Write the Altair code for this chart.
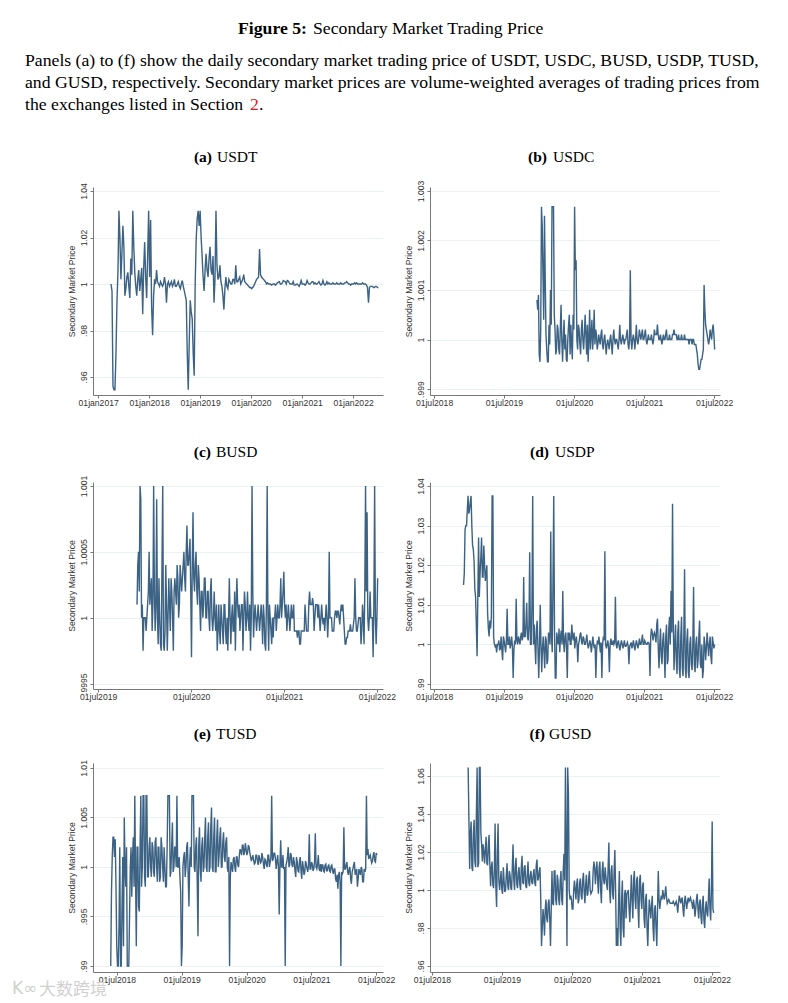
import altair as alt
import pandas as pd

usdt_v = [1.0,.956,.9545,.992,1.0315,1.002,1.025,.995,1.003,.999,
 1.011,1.0315,1.005,.995,1.006,1.002,.987,1.018,.994,1.0315,
 1.0275,.978,1.002,1.006,1.0,1.001,.999,1.003,.992,1.001,
 1.0,.999,1.002,.999,1.001,.998,1.0015,.997,.993,.9545,
 .993,.985,.9605,1.019,1.0315,1.0315,1.012,.997,1.013,1.003,
 1.016,1.004,.992,1.0315,1.002,1.008,.999,.989,1.003,.998,
 1.001,1.0,1.002,1.008,1.001,1.003,1.001,1.004,1.0005,.9995,
 .9985,.998,.999,1.001,1.0025,1.015,1.003,1.002,1.001,1.0005,
 1.0,.9995,1.0,.9995,1.0005,1.001,1.0,1.0015,1.001,1.0015,
 1.0005,1.0,1.001,.9995,1.0,.999,1.0015,1.0,.9995,1.0015,
 1.0,1.0005,1.001,1.0005,1.0,1.001,.9995,1.0015,.9995,1.001,
 1.0005,1.0,1.0005,1.0,1.0005,1.0,1.0005,1.0,1.0005,1.001,
 1.0,.9995,1.0,1.0005,1.0005,1.0,1.0,1.0005,1.0,.9995,
 .992,.999,.999,.9985,.999,.9985]
usdt_m = [.997,.9545,.97,1.005,1.02,1.013,1.016,.998,1.005,.994,
 1.004,1.016,.999,1.002,.997,1.007,1.007,1.003,1.012,1.003,
 .99,.995,1.0,1.001,.999,1.0,1.0,1.0,1.0,.999,
 1.001,1.0,.999,1.0,.999,1.0,.999,.995,.97,.975,
 .988,.97,1.0,1.028,1.025,1.02,1.003,1.006,1.006,1.011,
 1.006,1.012,1.002,1.008,1.003,1.001,.995,.998,.999,1.002,
 1.0,1.002,1.0,1.001,1.002,1.0,1.002,1.001,1.0,.999,
 .9985,.9985,1.0,1.002,1.003,1.004,1.0025,1.0015,1.0,1.0,
 1.0,.9998,1.0,1.0,1.0008,1.0,1.0005,1.0012,1.0,1.0013,
 1.0,1.0,.9995,.9998,.9995,1.0,1.0,1.0,1.0,1.0005,
 1.0,1.001,1.0,1.0,1.0005,1.0,1.0,1.0,1.0,1.0,
 1.0,1.0,1.0,1.0,1.0,1.0,1.0,1.0,1.0005,1.0005,
 1.0,1.0,1.0,1.0,1.0,1.0,1.0,1.0,1.0,.9985,
 .9985,.999,.9985,.999,.9985]
usdc_v = [1.0008,1.0009,.99955,1.00268,1.0013,1.0025,1.0001,.99955,1.0003,1.001,
 1.00268,1.00268,1.0002,.9998,1.0002,.9997,1.0007,.99955,1.0004,1.0001,
 .99955,1.0003,.9997,.9999,1.0005,1.00268,1.0016,.9998,1.0002,.9997,
 1.0004,.9998,1.0005,.9997,.99955,1.0006,1.0001,.9998,1.0006,1.0002,
 .9998,1.0001,.9999,1.0002,.9998,1.0001,.9997,1.0,.9998,1.0001,
 .9997,1.0002,.9999,1.0,.9998,1.0003,.9999,1.0001,.9999,1.0,
 1.0002,.9998,1.0014,.9998,1.0001,.9998,1.0003,.9999,1.0002,1.0,
 1.0002,1.0,1.0002,.9999,1.0001,1.0,1.0001,.9999,1.0002,1.0001,
 1.0003,1.0,1.0001,.9999,1.0001,1.0,1.0002,1.0,1.0001,1.0,
 1.0001,1.0002,1.0001,1.0,1.0001,1.0,1.0001,1.0,1.0001,1.0,
 1.0,.9999,1.0,.9999,1.0,.9999,.9998,.9995,.9994,.9996,
 .9997,1.0011,1.0003,1.0001,.9999,1.0002,1.0,1.0003,.9998]
usdc_m = [1.0006,.9997,1.0002,1.0023,1.0004,1.0012,.9998,.99955,.9999,1.0003,
 1.00268,1.0005,.9997,1.0003,.9998,1.0002,1.0,1.0,.9998,.9996,
 1.0,1.0005,1.0003,.9996,1.0002,1.0014,1.0,1.0003,.9999,1.0002,
 1.0,1.0001,1.0001,1.0003,1.0,.9998,1.0004,1.0001,.9999,1.0001,
 .9999,1.0,1.0001,.9999,1.0,.9999,.9999,.9999,1.0,.9999,
 1.0,1.0,1.0,.9999,1.0,1.0,1.0,1.0,1.0,1.0001,
 .9999,1.0,1.0,1.0,1.0,1.0,1.0,1.0,1.0001,1.0001,
 1.0,1.0001,1.0,1.0,1.0,1.0,1.0,1.0,1.0001,1.0001,
 1.0001,1.0,1.0,1.0,1.0,1.0001,1.0,1.0,1.0,1.0,
 1.0001,1.0001,1.0001,1.0,1.0,1.0,1.0,1.0,1.0,1.0,
 1.0,1.0,1.0,1.0,.9999,.9999,.9997,.9994,.9995,.9996,
 .9998,1.0006,1.0002,1.0,1.0,1.0001,1.0002,1.0001]
busd_v = [1.0001,1.0005,1.001,1.0,.99975,1.0,.9999,1.0001,1.0005,1.0002,
 .9999,1.001,.9999,1.0009,.9998,1.0,.99975,1.001,.99975,1.0004,
 .99975,1.0003,.9999,1.0002,.99975,1.0003,1.0001,1.0003,1.0001,1.0003,
 1.0003,1.0005,1.0002,1.0007,1.0004,1.0006,.9997,1.0008,1.0002,1.0005,
 1.0001,1.0003,.9999,1.0002,1.0001,1.0003,1.0,1.0002,.9999,1.0003,
 .9999,1.0002,.9999,.99975,1.0001,.9998,1.0,.9998,1.0001,.9998,
 .99975,1.0003,.9998,1.0001,.9999,.99975,1.0003,1.0,.9999,1.0001,
 .99975,1.0002,.9999,1.0002,.9999,.99975,1.001,.99985,1.0001,.9999,
 1.0001,.9999,1.0001,.9998,1.0,.99975,1.001,.99975,1.0,.9998,
 .99985,1.0,.9999,1.0001,1.0,1.0003,1.0001,1.00035,1.0,.9999,
 1.0001,.9999,1.0001,1.0,.9999,.9999,.99985,.9999,.9998,.9999,
 .9999,1.0001,.9999,.9999,1.0002,1.0001,1.00015,.9999,1.0001,1.0001,
 1.0001,.9999,1.0001,.99995,.9999,1.0001,.99985,1.0005,1.0,.9999,
 .9999,1.00005,1.0,1.00005,.99995,1.0001,1.0001,.9999,.9998,.99985,
 .9999,.99995,.9999,.99995,1.0003,.9999,.99995,1.0,.9998,1.0001,
 .9998,1.001,1.0008,.9999,1.0002,1.0,.9997,1.001,.9998,1.0003]
busd_m = [1.0004,1.0002,1.0009,1.0001,1.0,1.0,1.0,1.0002,1.0001,1.0003,
 1.0001,1.0002,1.0001,1.0,1.0003,.9998,1.0004,.9998,.9999,1.0001,
 1.0,1.0001,1.0003,1.0,1.0002,1.0002,1.0004,1.0,1.0004,1.0002,
 1.0004,1.0003,1.0005,1.0004,1.0005,1.0002,1.0004,1.0003,1.0004,1.0002,
 1.0004,1.0001,1.0002,1.0,1.0003,1.0,1.0002,1.0,1.0002,1.0,
 1.0,1.0,1.0001,.9999,.9999,1.0001,.9999,1.0001,.9999,1.0,
 1.0,1.0,1.0,.9999,1.0002,1.0001,1.0001,1.0001,1.0,1.0001,
 1.0,1.0001,1.0,1.0,1.0001,1.0,1.0002,1.0,1.0,1.0,
 1.0,1.0,1.0,1.0001,.9998,1.0001,1.0,1.0001,.9999,1.0,
 1.0,1.0001,1.0,1.0,1.0001,1.0,1.0002,1.0001,1.0001,1.0,
 1.0,1.0,1.0,1.0001,.9999,.9999,.9999,.9998,.9999,.9999,
 .9999,1.0,.9999,1.0001,1.0001,1.0001,1.0001,1.0,1.0001,1.0,
 1.0,1.0,1.0,1.0,1.0,1.0,1.0,1.0,1.0,.9999,
 1.0,1.00005,1.00005,1.0,1.00005,1.00005,1.0,.9998,.99985,.9999,
 .9999,.9999,.9999,1.0,1.0,.9999,1.0,1.0,.9999,1.0,
 1.0002,1.0002,1.0,1.0,1.0,1.0,1.0001,1.0,1.0]
usdp_v = [1.015,1.029,1.03,1.0375,1.034,1.0375,1.025,1.021,1.012,.997,
 1.027,1.018,1.027,1.017,1.02,1.018,1.008,1.002,1.004,1.0375,
 1.002,.9995,.998,1.0,.9985,1.002,.996,1.001,.998,1.009,
 1.0,.999,1.002,.9915,1.001,1.0115,1.0,1.001,1.002,1.001,
 1.017,1.002,1.0105,1.001,1.0233,1.0,1.0375,1.005,.995,1.006,
 .9915,1.01,.993,1.002,.994,1.001,.996,1.002,1.0285,.998,
 1.0375,.9915,1.003,1.0,.998,1.0035,1.0135,.998,1.003,.9915,
 1.001,1.0,1.005,1.001,.999,1.002,.9955,1.001,1.003,1.0,
 1.0015,1.0,1.0025,.999,1.001,.998,1.002,.999,.9915,1.001,
 1.002,.998,.9915,1.002,1.0235,.999,1.001,.993,1.0015,1.0,
 1.0,1.012,.999,1.001,.9985,1.001,.999,1.001,.9995,1.0005,
 .995,1.0,.999,1.001,.9985,1.001,.999,1.0015,1.0,1.0025,
 1.0,1.0005,1.0,1.0005,.992,1.004,1.001,1.003,1.0005,1.0065,
 .994,1.004,.995,1.003,.9915,1.005,.996,1.007,1.0135,1.0355,
 .9935,1.005,.9925,1.006,.9915,1.007,.992,1.019,.9915,1.004,
 .9915,1.002,.9935,1.0145,.993,1.002,.996,1.006,.994,.9915,
 1.002,.996,1.003,.997,1.002,.995,1.0005,1.0]
usdp_m = [1.018,1.03,1.034,1.033,1.036,1.03,1.024,1.014,1.005,1.012,
 1.012,1.022,1.017,1.025,1.016,1.02,1.004,1.006,1.007,1.0375,
 1.0,1.0,1.0,1.001,.999,.9985,1.002,.9995,1.001,1.0,
 1.002,1.0,.9995,.9985,1.0,1.001,1.002,1.0,1.003,1.002,
 1.002,1.005,1.002,1.005,1.0,1.01,1.0,1.0,1.004,.999,
 .999,1.0,.999,.998,1.002,.995,1.003,1.0,1.002,1.016,
 1.004,.9915,1.001,1.004,1.002,1.0,1.001,1.002,.999,1.003,
 1.003,1.0,1.002,1.003,1.001,1.0,1.0,1.0025,1.0005,1.002,
 1.0,1.001,1.0,1.0,1.0,1.0,1.0,1.0,.9985,1.0,
 1.0,1.0005,1.0,1.001,1.0,1.0,.999,1.0,1.0,1.001,
 1.0005,1.0,1.0005,.9995,1.0,1.0,1.0,.9995,1.0,.9995,
 .9995,1.0005,1.0,.9995,1.0,1.0,1.0,1.0,1.001,1.0,
 1.001,1.0,1.0005,1.0,1.002,1.003,1.0025,1.002,1.005,.999,
 1.0,.997,1.001,.998,1.002,.995,1.004,1.0,1.003,1.005,
 1.0,.996,1.003,.994,1.002,.994,1.002,.994,1.001,.993,
 1.0,.995,1.0,.995,1.0,.994,1.002,.995,1.0,.9935,
 1.0,.999,1.0,1.0,.997,1.002,.999]
tusd_v = [.99,1.001,1.003,1.0028,.992,.99,1.002,.99,1.001,1.005,
 .998,.99,.99,1.0,.997,1.003,1.0072,.992,1.002,.9955,
 1.0072,1.0,1.0072,.998,1.0072,.999,1.003,.999,1.002,.999,
 1.003,.9985,1.002,.999,1.002,.9985,1.0,.998,1.0072,1.0072,
 .9995,1.0045,1.0,1.002,1.0072,1.0,.999,.99,1.0,1.0015,
 1.0,1.0025,.996,1.002,1.0072,1.0072,.9995,1.003,.993,1.004,
 .9985,1.003,1.0,1.005,.9995,1.0045,1.0,1.006,.9995,1.005,
 .9995,1.0048,1.001,1.004,1.0,1.0035,1.0005,1.003,.9995,.99,
 1.0005,.9995,1.001,.9995,1.001,1.0,1.0018,1.0012,1.0022,1.0015,
 1.0018,1.0015,1.002,1.001,1.0009,1.0007,1.0004,1.0012,1.0002,1.0009,
 1.0005,1.001,.9998,1.0007,1.0,1.0012,1.0005,1.0072,1.0008,1.0014,
 .9998,1.0012,.9952,1.0027,1.0,.9998,.99,1.0005,1.002,1.0002,
 1.0012,1.0,1.0005,.999,1.0005,.9995,1.001,.9988,1.0,.9995,
 1.0003,.9995,1.0033,.9998,1.0003,.9998,1.0034,.9998,1.0012,.9996,
 .9995,1.0002,.9995,1.0003,.9996,1.0002,.9995,1.0002,.9993,.9998,
 .9985,.9978,.9995,.99,.9993,1.004,.9998,1.0005,.9992,1.0,
 .9983,.9998,1.0005,.9995,.998,.9998,.9992,.9998,.9985,.9995,
 1.0072,1.0018,1.001,1.0008,1.0006,1.0015,1.0005,1.0012]
tusd_m = [.9975,1.003,1.001,.998,.99,.994,.99,.996,.992,1.0,
 1.002,.99,.995,1.002,1.001,.998,.999,1.002,.996,1.002,
 .998,1.0072,.999,1.0072,.999,1.002,1.0,1.0025,.9995,1.0025,
 1.0,1.002,.9985,1.003,1.0,1.002,.998,1.002,1.0072,.999,
 1.002,.9995,1.002,1.0,1.0,1.001,.9975,.992,1.001,.999,
 1.002,.999,1.0005,1.0,1.0072,1.0,1.002,.9985,1.002,1.0,
 1.002,.9995,1.003,1.0,1.003,.9995,1.004,1.0,1.003,.9995,
 1.003,1.0,1.003,1.0,1.0025,1.001,1.0025,1.0,1.001,.999,
 1.0,1.0008,1.0,1.001,1.0002,1.0012,1.0016,1.0022,1.0012,1.0024,
 1.0012,1.0022,1.0014,1.0006,1.0012,1.0003,1.0012,1.0006,1.0012,1.0004,
 1.0014,1.0003,1.0008,1.0002,1.0012,1.0,1.001,1.0006,1.0014,1.0008,
 1.0006,1.0,1.0002,1.0,1.0012,1.0,1.0002,1.001,1.0,1.0014,
 1.0002,1.001,.9996,1.001,.9996,1.0006,.9996,1.0006,.9992,1.0006,
 .9998,1.0002,.9998,1.0005,.9996,1.0005,1.0,1.0003,.9998,1.0003,
 1.0002,.9996,1.0002,.9996,1.0001,.9996,1.0001,.9996,.9998,.9988,
 .9992,.9992,.9985,.9995,.9995,.9998,1.0002,.9995,.9998,.9988,
 .9995,1.0002,.9992,.9998,.9988,.9995,1.0,.9985,.9998,.9998,
 1.0012,1.0008,1.0012,1.0004,1.0012,1.0006,1.0014]
gusd_v = [1.0645,1.011,1.036,1.01,1.037,1.012,1.0645,1.014,1.0645,1.024,
 1.024,1.014,1.028,1.013,1.029,1.002,1.015,1.001,1.035,.991,
 1.035,1.0,1.01,.998,1.005,1.0,1.014,1.0,1.008,1.0,
 1.024,1.0,1.017,1.001,1.012,1.0,1.018,1.003,1.013,1.001,
 1.015,1.002,1.01,1.003,1.011,1.002,1.016,1.006,1.012,.9705,
 .99,.976,.995,.983,.995,.9705,1.01,.992,1.01,.992,
 1.005,.992,1.01,.992,1.019,1.0645,.9705,1.05,.995,.995,
 .99,1.005,.995,1.006,.995,1.006,.995,1.009,.993,1.008,
 .998,1.01,.998,1.0,1.015,1.003,1.015,.998,1.015,.993,
 1.015,1.003,1.007,1.0,1.025,.993,1.013,.995,1.021,.9705,
 .9705,1.01,.9705,1.005,.975,1.0,.998,1.0,.983,1.008,
 .985,1.01,.99,1.007,.98,1.008,.99,1.004,.98,.998,
 .9705,.995,.985,.997,.973,.992,.9705,1.01,.99,.997,
 1.0,.995,1.002,.993,.995,.993,.993,.994,.992,.994,
 .988,.997,.993,.996,.986,.997,.99,.996,.995,.994,
 .99,.992,.99,.998,.985,.995,.982,.997,.98,.994,
 .986,1.006,.984,1.036,.988]
gusd_m = [1.038,1.03,1.012,1.03,1.015,1.04,1.012,1.0645,1.03,1.015,
 1.02,1.022,1.014,1.024,1.013,1.012,1.003,1.01,1.002,1.02,
 1.005,1.005,1.0,1.012,.999,1.008,1.002,1.01,1.001,1.012,
 1.005,1.012,1.003,1.009,1.003,1.012,1.004,1.012,1.002,1.008,
 1.004,1.008,1.004,1.008,1.004,1.013,1.005,1.01,.995,.98,
 .985,.99,.985,.993,.985,.99,.993,1.01,.995,1.008,
 .995,1.005,.995,1.01,1.005,1.02,1.0645,1.0,.997,.99,
 1.0,1.0,1.003,.993,1.004,.997,1.005,.999,1.003,.997,
 1.006,1.0,.999,1.01,1.012,1.01,1.005,1.012,1.0,1.01,
 1.005,1.012,1.003,1.012,1.0,1.01,.998,1.01,1.0,.98,
 .995,.98,.995,.98,.998,.985,.999,.99,.995,.995,
 1.005,.995,1.005,.99,1.005,.995,1.002,.985,.995,.98,
 .985,.99,.992,.98,.99,.98,.99,.995,.994,.995,
 .997,.998,.996,.994,.994,.993,.993,.993,.993,.992,
 .993,.995,.995,.99,.994,.993,.994,.994,.996,.993,
 .995,.986,.995,.99,.993,.986,.993,.984,.99,.988,
 .996,.99,1.0,.99]

NAVY = "#1a476f"
FONT = "Liberation Sans"
SERIF = "Liberation Serif"
AXIS_GREY = "#777777"


def ms(d):
    return int(pd.Timestamp(d).value // 10**6)


def merged(v, m):
    out = []
    for i, value in enumerate(v):
        out.append(value)
        if i < len(m) and i < len(v) - 1:
            out.append(m[i])
    return out


def note(text, x, y, size=15.5, weight="normal", color="black", align="left", font=SERIF):
    return alt.Chart(alt.Data(values=[{"k": 1}])).mark_text(
        text=text, font=font, fontSize=size, fontWeight=weight, color=color,
        align=align, baseline="middle",
    ).encode(x=alt.value(x), y=alt.value(y))


def panel(v, m, start, end, xdom, xticks, ydom, yticks, height, yrange, extras):
    vals = merged(v, m)
    dates = pd.date_range(start, end, periods=len(vals))
    df = pd.DataFrame({"date": [int(d.value // 10**6) for d in dates], "price": vals})
    line = alt.Chart(df).mark_line(color=NAVY, strokeWidth=1.4, opacity=0.85).encode(
        x=alt.X("date:T", title=None,
                scale=alt.Scale(type="utc", domain=[ms(xdom[0]), ms(xdom[1])], nice=False),
                axis=alt.Axis(values=[ms(t) for t in xticks], grid=False,
                              labelExpr="lower(utcFormat(datum.value,'%d%b%Y'))",
                              labelFont=FONT, labelFontSize=8.6, labelColor="#333333",
                              labelPadding=0, tickColor=AXIS_GREY, tickSize=3,
                              domainColor=AXIS_GREY, labelOverlap=False, labelFlush=False)),
        y=alt.Y("price:Q", title="Secondary Market Price",
                scale=alt.Scale(domain=ydom, range=yrange, nice=False, zero=False),
                axis=alt.Axis(values=yticks, grid=True, gridColor="#eaf2f3",
                              labelExpr="replace(format(datum.value,'.4~f'),/^0/,'')",
                              labelFont=FONT, labelFontSize=8.6, labelColor="#333333",
                              labelAngle=270, labelAlign="center", labelBaseline="bottom",
                              labelPadding=2, tickColor=AXIS_GREY, tickSize=3,
                              domainColor=AXIS_GREY, labelOverlap=False,
                              titleFont=FONT, titleFontSize=8.6, titleFontWeight="normal",
                              titleColor="#333333", titlePadding=3)),
    )
    return alt.layer(line, *extras).properties(width=290, height=height)


A_TOP, C_TOP, E_TOP = 185, 467, 761
LEFT_X, RIGHT_X = 93, 430


def titled(bold, name, bx, rx, y, ox, oy):
    return [note(bold, bx - ox, y - oy, weight="bold", align="right"),
            note(name, rx - ox, y - oy)]


def head(text, x, y, **kw):
    return note(text, x - LEFT_X, y - A_TOP, size=kw.pop("size", 17.7), **kw)


header = [
    head("Figure 5:", 307, 27, weight="bold", align="right"),
    head("Secondary Market Trading Price", 313, 27),
    head("Panels (a) to (f) show the daily secondary market trading price of USDT, USDC, BUSD, USDP, TUSD,", 25, 59),
    head("and GUSD, respectively. Secondary market prices are volume-weighted averages of trading prices from", 25, 81),
    head("the exchanges listed in Section", 25, 103),
    head("2", 250, 103, color="#d62020"),
    head(".", 259, 103),
]

JUL = ["2018-07-01", "2019-07-01", "2020-07-01", "2021-07-01", "2022-07-01"]
JUL3 = JUL[1:]
JAN = ["2017-01-01", "2018-01-01", "2019-01-01", "2020-01-01", "2021-01-01", "2022-01-01"]

pa = panel(usdt_v, usdt_m, "2017-04-03", "2022-07-01", ("2016-11-25", "2022-08-03"), JAN,
           [.95226, 1.04172], [.96, .98, 1, 1.02, 1.04], 208, [208, 0],
           titled("(a)", "USDT", 212, 217, 155, LEFT_X, A_TOP) + header)
pb = panel(usdc_v, usdc_m, "2019-12-20", "2022-07-04", ("2018-06-10", "2022-08-01"), JUL,
           [.99888, 1.00308], [.999, 1, 1.001, 1.002, 1.003], 208, [208, 0],
           titled("(b)", "USDC", 547, 553, 155, RIGHT_X, A_TOP))
pc = panel(busd_v, busd_m, "2019-12-01", "2022-07-04", ("2019-06-11", "2022-07-25"), JUL3,
           [.99946, 1.00103], [.9995, 1, 1.0005, 1.001], 220, [220, 13],
           titled("(c)", "BUSD", 211, 216, 450, LEFT_X, C_TOP))
pd_ = panel(usdp_v, usdp_m, "2018-12-02", "2022-07-04", ("2018-06-10", "2022-08-01"), JUL,
            [.98874, 1.04101], [.99, 1, 1.01, 1.02, 1.03, 1.04], 220, [220, 13],
            titled("(d)", "USDP", 549, 555, 450, RIGHT_X, C_TOP))
pe = panel(tusd_v, tusd_m, "2018-05-27", "2022-07-06", ("2018-02-16", "2022-08-09"), JUL,
           [.98939, 1.0105], [.99, .995, 1, 1.005, 1.01], 209, [209, 0],
           titled("(e)", "TUSD", 211, 216, 732, LEFT_X, E_TOP)
           + [note("K\u221e", 12 - LEFT_X, 987 - E_TOP, size=17, color="#d0d0d0", font="DejaVu Sans"),
              note("\u5927\u6570\u8de8\u5883", 39 - LEFT_X, 988 - E_TOP, size=17, color="#d0d0d0",
                   font="Noto Sans CJK SC")])
pf = panel(gusd_v, gusd_m, "2019-01-06", "2022-07-10", ("2018-06-21", "2022-08-12"), JUL,
           [.95684, 1.06684], [.96, .98, 1, 1.02, 1.04, 1.06], 209, [209, 0],
           titled("(f)", "GUSD", 545, 549, 732, RIGHT_X, E_TOP))

chart = alt.concat(pa, pb, pc, pd_, pe, pf, columns=2, bounds="flush", align="each",
                   spacing={"row": 74, "column": 47}).properties(
    padding={"left": 4, "top": 12, "right": 0, "bottom": 0}, background="white"
).configure_view(strokeWidth=0).configure_axis(tickWidth=1)

chart.save("out.html", embed_options={"renderer": "svg", "actions": False})
